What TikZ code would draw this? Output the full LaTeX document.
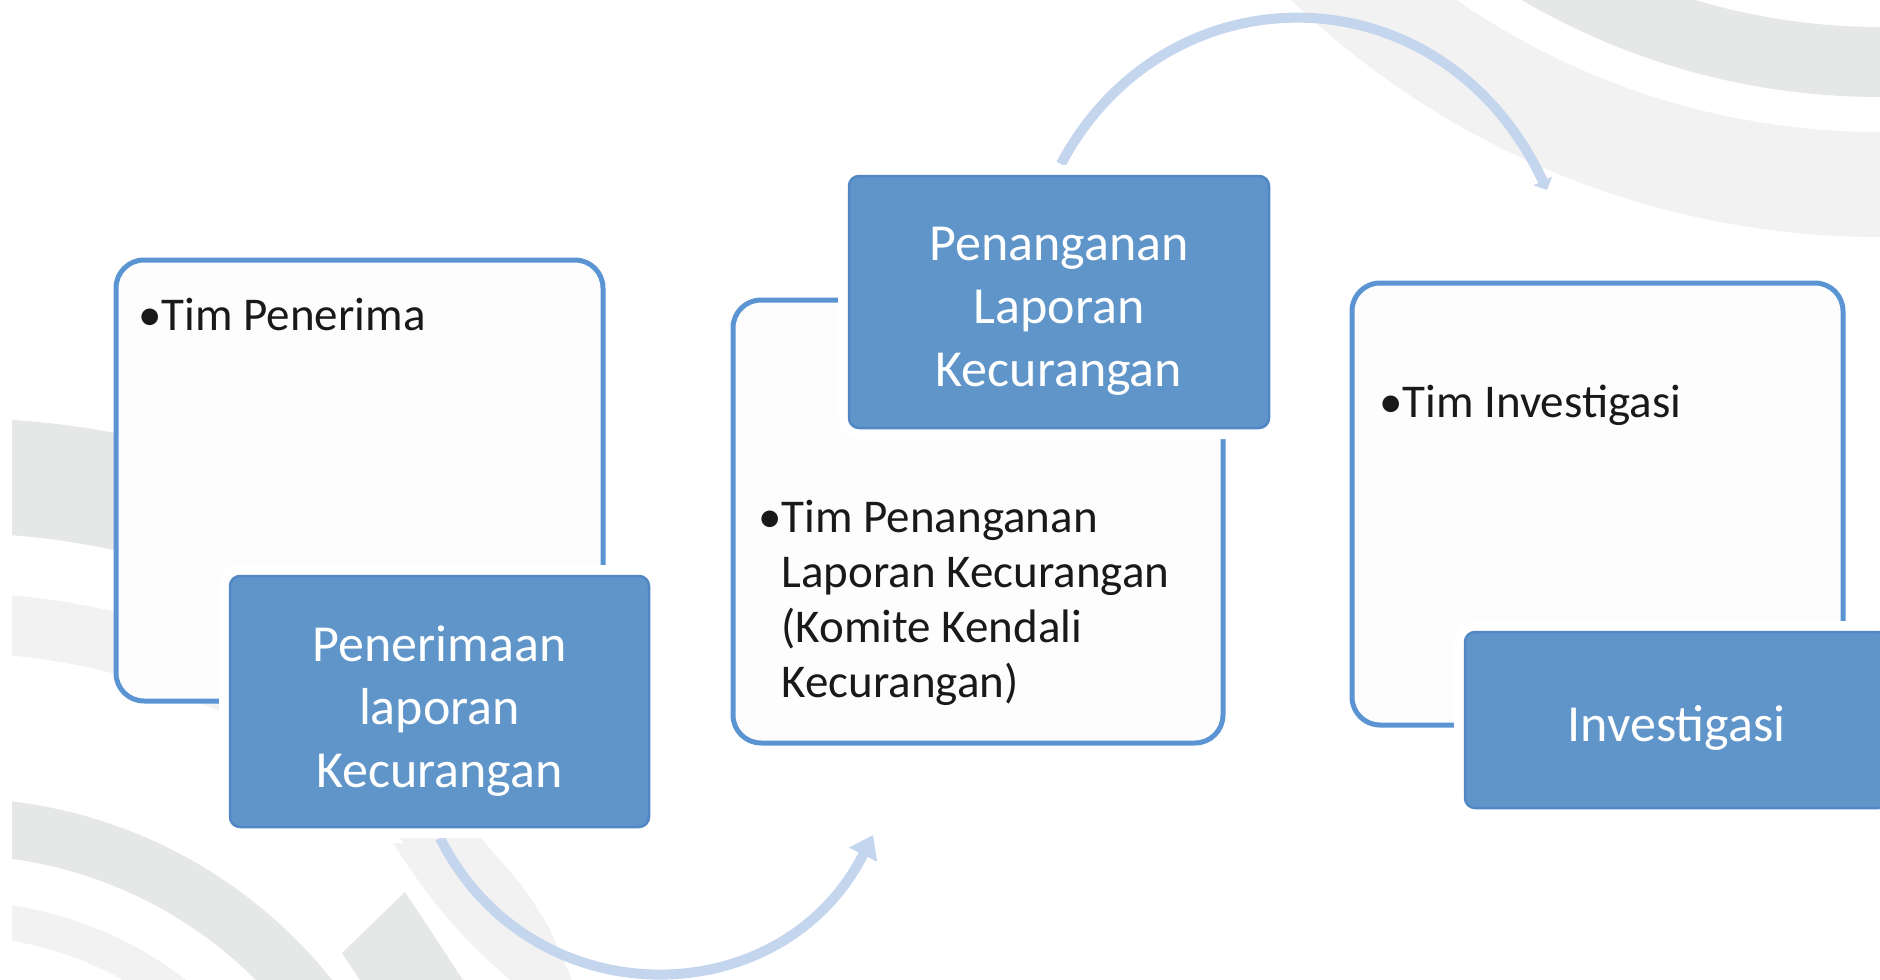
\documentclass[tikz,border=0pt]{standalone}
\usepackage{fontspec}
\setmainfont{Carlito}
\usetikzlibrary{arrows.meta}
\definecolor{bluefill}{RGB}{96,149,201}
\definecolor{blueedge}{RGB}{80,135,196}
\definecolor{boxline}{RGB}{91,148,211}
\definecolor{arrowblue}{RGB}{196,213,238}
\definecolor{ringdark}{RGB}{230,231,231}
\definecolor{ringlight}{RGB}{242,242,242}
\definecolor{txt}{RGB}{25,25,25}
\definecolor{boxwhite}{RGB}{253,253,253}
\begin{document}
\begin{tikzpicture}[x=1pt,y=-1pt,
  wbox/.style={draw=boxline, line width=5pt, fill=boxwhite, rounded corners=28pt, inner sep=0pt},
  bbox/.style={fill=bluefill, draw=blueedge, line width=2.5pt, rounded corners=10pt, inner sep=0pt,
    preaction={draw=white, line width=22pt}},
  blabel/.style={text=white, align=center, inner sep=0pt, font=\fontsize{52pt}{63pt}\selectfont},
  btxt/.style={text=txt, align=left, inner sep=0pt, font=\fontsize{47pt}{55pt}\selectfont},
  flow/.style={draw=arrowblue, line width=10pt}
]
\useasboundingbox (0,0) rectangle (1880,980);
\clip (0,0) rectangle (1880,980);
\fill[white] (0,0) rectangle (1880,980);

% background ripples
\begin{scope}
  \clip (12,0) rectangle (1880,980);
  \begin{scope}
    \clip (-46,1282) -- (1924,-257) -- (-100,-300) -- (-100,1282) -- cycle;
    \fill[ringdark, even odd rule] (-46,1282) circle[radius=864pt] circle[radius=749pt];
    \fill[ringlight, even odd rule] (-46,1282) circle[radius=689pt] circle[radius=629pt];
    \fill[ringdark, even odd rule] (-46,1282) circle[radius=484pt] circle[radius=427pt];
    \fill[ringlight, even odd rule] (-46,1282) circle[radius=381pt] circle[radius=346pt];
  \end{scope}
  \fill[ringlight] (393,843) -- (483,843) to[bend left=8] (550,930) -- (572,980) -- (510,980) to[bend left=8] cycle;
  \fill[ringdark] (342,953) -- (405,892) -- (463,980) -- (360,980) -- cycle;
  \fill[ringlight, even odd rule] (1880,-613) circle[radius=850pt] circle[radius=745pt];
  \fill[ringdark, even odd rule] (1880,-613) circle[radius=710pt] circle[radius=640pt];
\end{scope}

% flow arrows
\coordinate (a1s) at (440,838);
\coordinate (a1e) at (873,835);
\coordinate (a2s) at (1061,164);
\coordinate (a2e) at (1547,190);
\draw[flow, -{Triangle[width=30pt,length=22pt]}] (a1s) .. controls (531,1019) and (782,1016) .. (a1e);
\draw[flow, -{Triangle[width=20pt,length=10pt]}] (a2s) .. controls (1166,-34) and (1442,-34) .. (a2e);

% white boxes
\node[wbox, minimum width=487pt, minimum height=441pt] (w1) at (359.5,480.5) {};
\node[wbox, minimum width=490pt, minimum height=443pt] (w2) at (978,521.5) {};
\node[wbox, minimum width=491pt, minimum height=442pt] (w3) at (1597.5,504) {};

% blue boxes
\node[bbox, minimum width=419pt, minimum height=251pt] (b1) at (439.5,701.5) {};
\node[bbox, minimum width=420pt, minimum height=252pt] (b2) at (1059,302) {};
\node[bbox, minimum width=423pt, minimum height=176pt] (b3) at (1676.5,720) {};
\node[blabel] (l1) at ([yshift=-10pt]b1.center) {Penerimaan\\laporan\\Kecurangan};
\node[blabel] (l2) at ([yshift=-9pt]b2.center) {Penanganan\\Laporan\\Kecurangan};
\node[blabel] (l3) at ([yshift=-8pt]b3.center) {Investigasi};

% bullet texts
\node[btxt, anchor=base west] (t1) at (138,330) {\textbullet Tim Penerima};
\node[btxt, anchor=north west] (t2) at (758,500) {\textbullet Tim Penanganan\\\hphantom{\textbullet}Laporan Kecurangan\\\hphantom{\textbullet}(Komite Kendali\\\hphantom{\textbullet}Kecurangan)};
\node[btxt, anchor=base west] (t3) at (1379,417) {\textbullet Tim Investigasi};
\end{tikzpicture}
\end{document}
